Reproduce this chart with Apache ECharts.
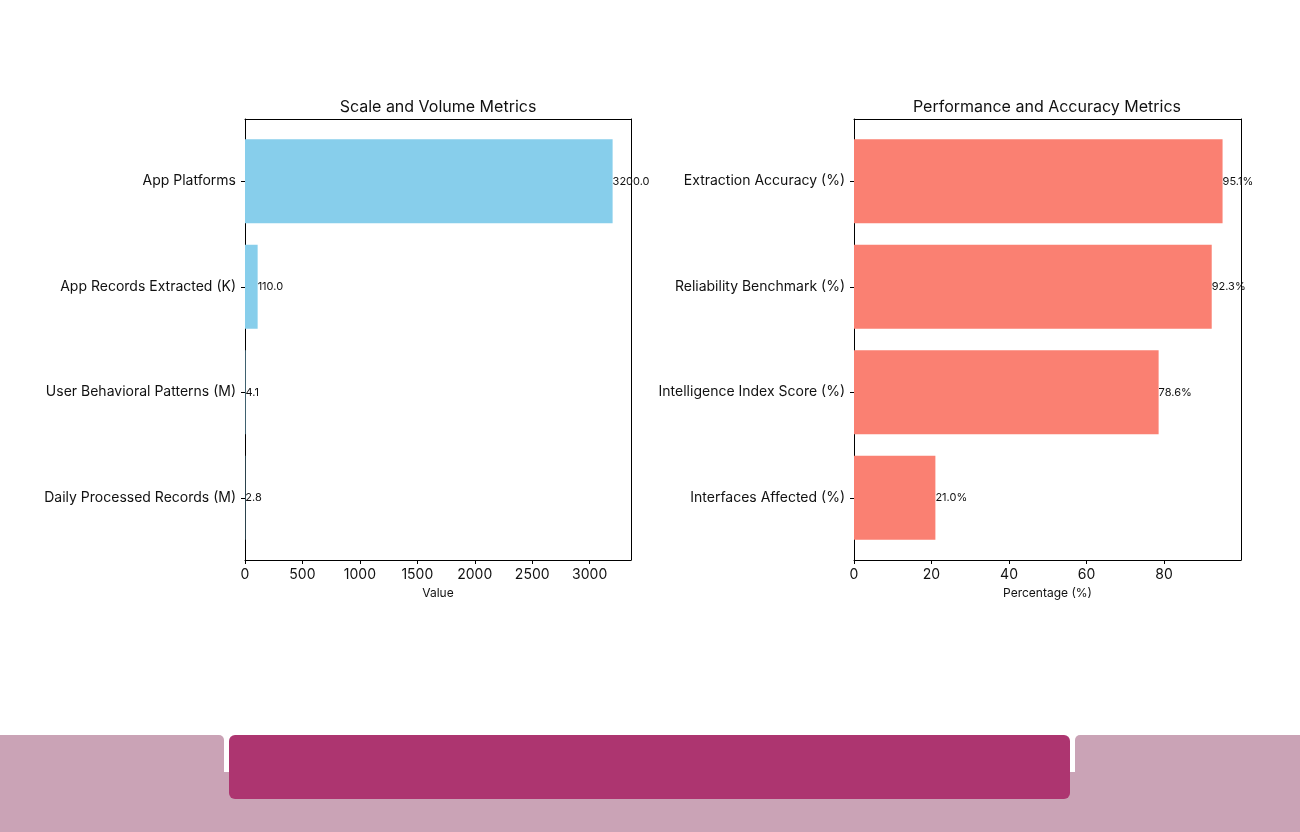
<!DOCTYPE html>
<html>
<head>
<meta charset="utf-8">
<script src="https://cdn.jsdelivr.net/npm/echarts@6/dist/echarts.min.js"></script>
<style>
  html, body { margin: 0; padding: 0; background: #fff; }
  #chart { width: 1300px; height: 832px; }
</style>
</head>
<body>
<div id="chart"></div>
<script>
// data
const scaleCategories = ['App Platforms', 'App Records Extracted (K)', 'User Behavioral Patterns (M)', 'Daily Processed Records (M)']
const scaleValues = [3200.0, 110.0, 4.1, 2.8]
const perfCategories = ['Extraction Accuracy (%)', 'Reliability Benchmark (%)', 'Intelligence Index Score (%)', 'Interfaces Affected (%)']
const perfValues = [95.1, 92.3, 78.6, 21.0]

const FONT = 'Inter, "Noto Sans", sans-serif'
const INK = '#111'

// frame grids (matplotlib style box) + data grids
function frameAxes (gridIndex) {
  const base = {
    gridIndex,
    type: 'value',
    min: 0,
    max: 1,
    axisLabel: { show: false },
    axisTick: { show: false },
    splitLine: { show: false },
    axisLine: { show: true, onZero: false, lineStyle: { color: '#000', width: 1 } }
  }
  return {
    x: [Object.assign({ position: 'bottom' }, base), Object.assign({ position: 'top' }, base)],
    y: [Object.assign({ position: 'left' }, base), Object.assign({ position: 'right' }, base)]
  }
}
const f0 = frameAxes(0)
const f1 = frameAxes(1)

function valueAxis (gridIndex, max, interval, name) {
  return {
    gridIndex,
    type: 'value',
    min: 0,
    max,
    interval,
    offset: 9.5,
    name,
    nameLocation: 'middle',
    nameGap: 26,
    nameTextStyle: { fontFamily: FONT, fontSize: 12, color: INK },
    axisLine: { show: false },
    axisTick: { show: true, length: 4, lineStyle: { color: '#000' } },
    splitLine: { show: false },
    axisLabel: { fontFamily: FONT, fontSize: 14, color: INK, margin: 8, showMaxLabel: false, formatter: v => String(v) }
  }
}

function catAxis (gridIndex, data) {
  return {
    gridIndex,
    type: 'category',
    data,
    inverse: true,
    axisLine: { show: false },
    axisTick: { show: true, alignWithLabel: true, length: 4, lineStyle: { color: '#000' } },
    axisLabel: { fontFamily: FONT, fontSize: 14, color: INK, margin: 9, lineHeight: 14, padding: [5, 0, 0, 0] }
  }
}

const option = {
  animation: false,
  backgroundColor: '#fff',
  title: [
    { text: 'Scale and Volume Metrics', left: 433, top: 94, textAlign: 'center', textStyle: { fontFamily: FONT, fontSize: 16, fontWeight: 'normal', color: INK } },
    { text: 'Performance and Accuracy Metrics', left: 1042, top: 94, textAlign: 'center', textStyle: { fontFamily: FONT, fontSize: 16, fontWeight: 'normal', color: INK } }
  ],
  grid: [
    { left: 245, top: 119, width: 386, height: 441 },
    { left: 854, top: 119, width: 387, height: 441 },
    { left: 245, top: 128.5, width: 386, height: 422 },
    { left: 854, top: 128.5, width: 387, height: 422 }
  ],
  xAxis: [
    ...f0.x, ...f1.x,
    valueAxis(2, 3360, 500, 'Value'),
    valueAxis(3, 99.855, 20, 'Percentage (%)')
  ],
  yAxis: [
    ...f0.y, ...f1.y,
    catAxis(2, scaleCategories),
    catAxis(3, perfCategories)
  ],
  series: [
    {
      type: 'bar',
      xAxisIndex: 4,
      yAxisIndex: 4,
      data: scaleValues,
      barWidth: 84,
      itemStyle: { color: '#87CEEB' },
      label: { show: true, position: 'right', distance: 0, fontFamily: FONT, fontSize: 11, color: INK, formatter: p => p.value.toFixed(1) }
    },
    {
      type: 'bar',
      xAxisIndex: 5,
      yAxisIndex: 5,
      data: perfValues,
      barWidth: 84,
      itemStyle: { color: '#FA8072' },
      label: { show: true, position: 'right', distance: 0, fontFamily: FONT, fontSize: 11, color: INK, formatter: p => p.value.toFixed(1) + '%' }
    }
  ],
  graphic: [
    // footer decoration
    { type: 'rect', shape: { x: 0, y: 772, width: 1300, height: 60 }, style: { fill: '#caa3b6' }, silent: true },
    { type: 'rect', shape: { x: -10, y: 735, width: 234, height: 60, r: [0, 5, 0, 0] }, style: { fill: '#caa3b6' }, silent: true },
    { type: 'rect', shape: { x: 1075, y: 735, width: 235, height: 60, r: [5, 0, 0, 0] }, style: { fill: '#caa3b6' }, silent: true },
    { type: 'rect', shape: { x: 229, y: 735, width: 841, height: 64, r: 6 }, style: { fill: '#ad3570' }, silent: true }
  ]
}

const myChart = echarts.init(document.getElementById('chart'))
myChart.setOption(option)
</script>
</body>
</html>
